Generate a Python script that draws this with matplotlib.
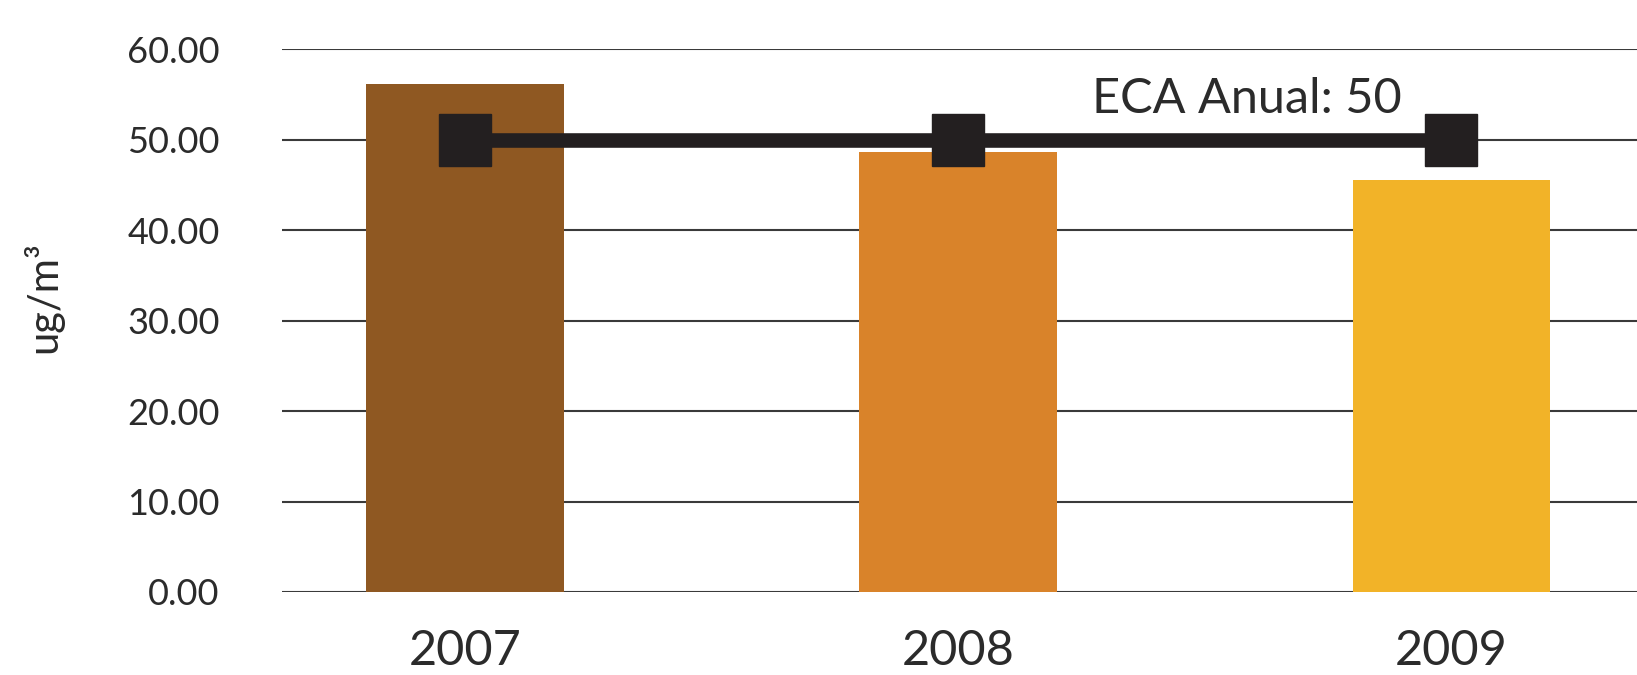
import matplotlib
matplotlib.use("Agg")
import matplotlib.pyplot as plt

# Concentración anual vs. ECA
anios = ["2007", "2008", "2009"]
valores = [56.2, 48.6, 45.6]
eca = [50, 50, 50]
colores = ["#8F5822", "#D9832A", "#F2B328"]
ticks_y = [0, 10, 20, 30, 40, 50, 60]
TXT = "#2b2b2b"
NEGRO = "#231F20"

plt.rcParams["font.family"] = ["Lato", "DejaVu Sans"]

fig = plt.figure(figsize=(16.37, 6.75), dpi=100)
ax = fig.add_axes([0.1723, 0.123, 0.8277, 0.804])

x = list(range(len(anios)))
ax.bar(x, valores, width=0.40, color=colores, zorder=2)
ax.plot(x, eca, color=NEGRO, lw=10.5, marker="s", ms=38,
        markerfacecolor=NEGRO, markeredgecolor=NEGRO, zorder=3)
ax.text(1.585, eca[-1] + 4.5, f"ECA Anual: {eca[-1]}", ha="center", va="center",
        fontsize=35, color=TXT, zorder=4)

ax.set_ylim(0, 60)
ax.set_xlim(-0.371, 2.377)
ax.set_yticks(ticks_y)
ax.set_yticklabels([f"{v:.2f}" for v in ticks_y])
ax.set_xticks(x)
ax.set_xticklabels(anios)
ax.tick_params(axis="y", length=0, pad=45, labelsize=26, labelcolor=TXT)
ax.tick_params(axis="x", length=0, pad=27, labelsize=35, labelcolor=TXT)
ax.yaxis.grid(True, color="#3a3a3a", lw=1.5, zorder=1)
ax.set_axisbelow(True)
for s in ax.spines.values():
    s.set_visible(False)

fig.text(0.026, 0.56, "ug/m³", rotation=90, ha="center", va="center",
         fontsize=30, color=TXT)

fig.savefig("out.png", dpi=100)
